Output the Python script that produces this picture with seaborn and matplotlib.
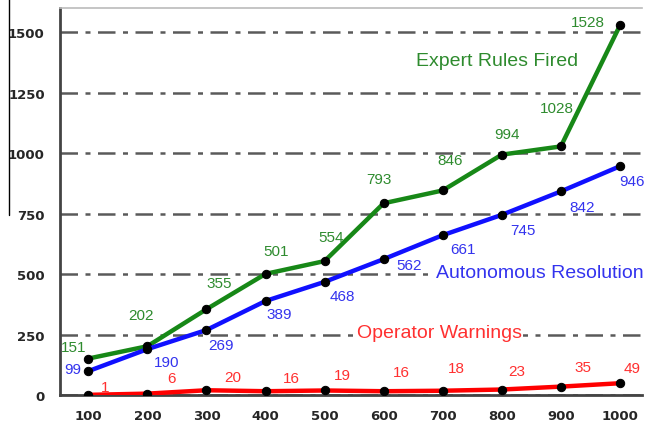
import matplotlib.pyplot as plt
import seaborn as sns
from matplotlib.lines import Line2D

x_vals = [100, 200, 300, 400, 500, 600, 700, 800, 900, 1000]
expert = [151, 202, 355, 501, 554, 793, 846, 994, 1028, 1528]
autonomous = [99, 190, 269, 389, 468, 562, 661, 745, 842, 946]
operator = [1, 6, 20, 16, 19, 16, 18, 23, 35, 49]

# label offsets in pixels (dx, dy) relative to each point
off_expert = [(-15, 12), (-6, 31), (13, 26), (11, 23), (6, 24), (-5, 24), (7, 30), (5, 21), (-4, 38), (-32, 3)]
off_auto = [(-16, 2), (19, -13), (15, -15), (14, -13), (18, -14), (25, -6), (20, -14), (21, -15), (21, -16), (12, -15)]
off_oper = [(17, 8), (24, 16), (26, 13), (26, 13), (18, 15), (18, 19), (14, 23), (15, 19), (22, 20), (12, 15)]

sns.set_style("white")
plt.rcParams['font.family'] = ['Liberation Sans', 'DejaVu Sans']

fig = plt.figure(figsize=(6.45, 4.31), dpi=100)
ax = fig.add_axes([0.093, 0.081, 0.902, 0.898])

series = [
    (expert, "#178817", "#2e8b2e", off_expert),
    (autonomous, "#1010ff", "#3333ee", off_auto),
    (operator, "#ff0000", "#ff3030", off_oper),
]
for vals, col, tcol, offs in series:
    sns.lineplot(x=x_vals, y=vals, ax=ax, color=col, linewidth=3.2, marker='o',
                 markersize=6, markerfacecolor='black', markeredgecolor='black', zorder=3)
    for xv, yv, (dx, dy) in zip(x_vals, vals, offs):
        ax.annotate(str(yv), (xv, yv), xytext=(dx, dy), textcoords='offset pixels',
                    ha='center', va='center', color=tcol, fontsize=11, zorder=4)

ax.set_xlim(52, 1037)
ax.set_ylim(0, 1600)
ax.set_xticks(x_vals)
ax.set_xticks([x + 50 for x in x_vals[:-1]], minor=True)
ax.set_yticks([0, 250, 500, 750, 1000, 1250, 1500])
ax.tick_params(axis='both', which='major', direction='out', length=6, width=1.5, color='#444444',
               labelsize=9.5, pad=5)
ax.tick_params(axis='x', which='minor', direction='out', length=4, width=1.5, color='#444444')
ax.tick_params(axis='x', which='major', length=0, pad=10)
for lbl in ax.get_xticklabels() + ax.get_yticklabels():
    lbl.set_fontweight('bold')
    lbl.set_family('DejaVu Sans')

ax.grid(axis='y', linestyle=(0, (7, 3, 2, 3)), color='#5a5a5a', linewidth=1.8)
ax.set_axisbelow(True)

for s in ['left', 'bottom']:
    ax.spines[s].set_color('#444444')
    ax.spines[s].set_linewidth(2)
ax.spines['top'].set_color('#bbbbbb')
ax.spines['top'].set_linewidth(1.2)
ax.spines['right'].set_visible(False)

bbox = dict(facecolor='white', edgecolor='none', pad=1)
px = lambda v: (v - 60) / 582
py = lambda v: (395 - v) / 387
ax.text(px(497), py(60), "Expert Rules Fired", transform=ax.transAxes, ha='center', va='center',
        color="#2e8b2e", fontsize=14)
ax.text(px(436), py(272), "Autonomous Resolution", transform=ax.transAxes, ha='left', va='center',
        color="#3333ee", fontsize=14, bbox=bbox, clip_on=False)
ax.text(px(357), py(332), "Operator Warnings", transform=ax.transAxes, ha='left', va='center',
        color="#ff3030", fontsize=14, bbox=bbox)

fig.add_artist(Line2D([0.014, 0.014], [1.0, 0.5], transform=fig.transFigure, color='black', linewidth=1))

fig.savefig("out.png", dpi=100)
